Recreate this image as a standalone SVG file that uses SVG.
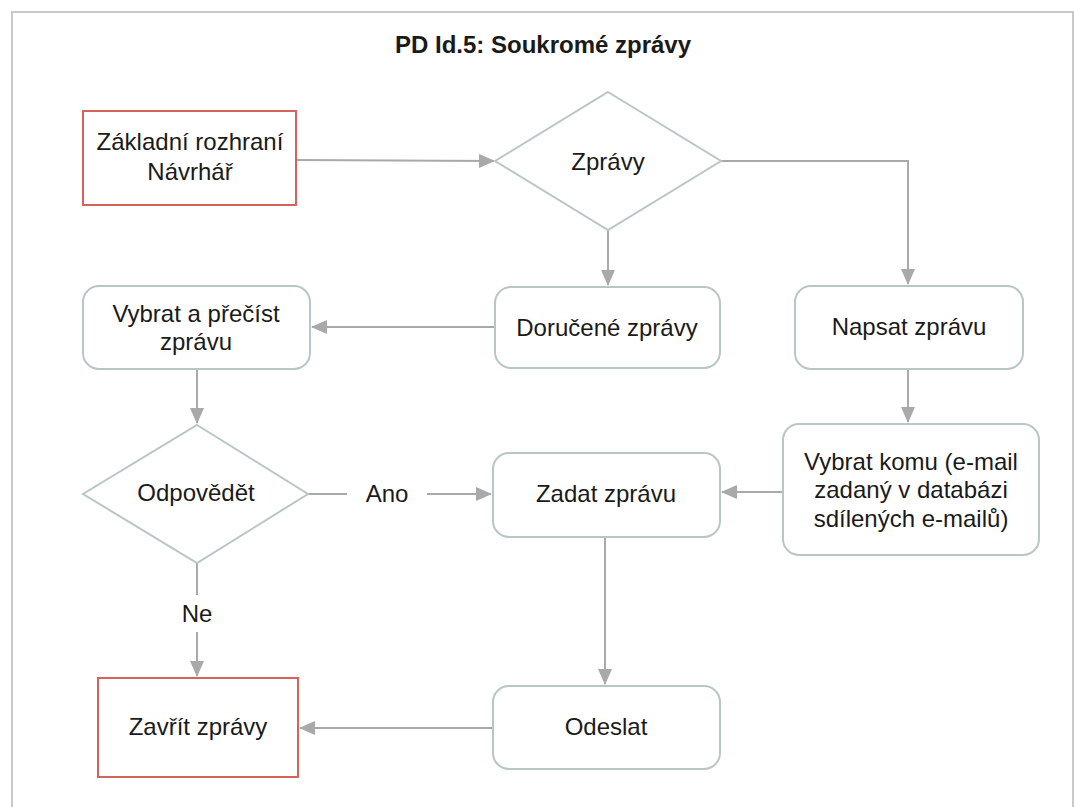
<svg xmlns="http://www.w3.org/2000/svg" width="1074" height="807" viewBox="0 0 1074 807">
  <style>
    .frame { fill: #ffffff; stroke: #c9c9c9; stroke-width: 2; }
    .box { fill: #ffffff; stroke: #b9c6c6; stroke-width: 2; }
    .term { fill: #ffffff; stroke: #d6625c; stroke-width: 2; }
    .edge { fill: none; stroke: #a9a9a9; stroke-width: 2; }
    text { font-family: "Liberation Sans", Arial, Helvetica, sans-serif; font-size: 24px; fill: #1a1a1a; text-anchor: middle; }
    .title { font-weight: bold; }
  </style>
  <defs>
    <marker id="arrow" viewBox="0 0 16 14" refX="15" refY="7" markerWidth="16" markerHeight="14" markerUnits="userSpaceOnUse" orient="auto">
      <path d="M0,0 L16,7 L0,14 Z" fill="#a9a9a9"/>
    </marker>
  </defs>

  <rect x="0" y="0" width="1074" height="807" fill="#ffffff"/>
  <rect class="frame" x="12" y="12" width="1061" height="810"/>

  <text class="title" x="543" y="53">PD Id.5: Soukromé zprávy</text>

  <g id="connectors">
    <line class="edge" x1="296" y1="160" x2="494" y2="161" marker-end="url(#arrow)"/>
    <polyline class="edge" points="721,161 908,161 908,284" marker-end="url(#arrow)"/>
    <line class="edge" x1="608" y1="230" x2="608" y2="285" marker-end="url(#arrow)"/>
    <line class="edge" x1="495" y1="327" x2="312" y2="327" marker-end="url(#arrow)"/>
    <line class="edge" x1="908" y1="369" x2="908" y2="422" marker-end="url(#arrow)"/>
    <line class="edge" x1="197" y1="369" x2="197" y2="423" marker-end="url(#arrow)"/>
    <line class="edge" x1="308" y1="494" x2="347" y2="494"/>
    <line class="edge" x1="427" y1="494" x2="491" y2="494" marker-end="url(#arrow)"/>
    <line class="edge" x1="783" y1="492" x2="722" y2="492" marker-end="url(#arrow)"/>
    <line class="edge" x1="197" y1="563" x2="197" y2="595"/>
    <line class="edge" x1="197" y1="632" x2="197" y2="676" marker-end="url(#arrow)"/>
    <line class="edge" x1="605" y1="537" x2="605" y2="684" marker-end="url(#arrow)"/>
    <line class="edge" x1="493" y1="728" x2="300" y2="728" marker-end="url(#arrow)"/>
    <text x="387" y="502">Ano</text>
    <text x="197" y="622">Ne</text>
  </g>

  <g id="zakladni-rozhrani">
    <rect class="term" x="83" y="111" width="213" height="94"/>
    <text x="190" y="150">Základní rozhraní</text>
    <text x="190" y="180">Návrhář</text>
  </g>

  <g id="zpravy">
    <polygon class="box" points="608,92 721,161 608,230 495,161"/>
    <text x="608" y="170">Zprávy</text>
  </g>

  <g id="dorucene-zpravy">
    <rect class="box" x="495" y="287" width="225" height="81" rx="16"/>
    <text x="607" y="336">Doručené zprávy</text>
  </g>

  <g id="napsat-zpravu">
    <rect class="box" x="795" y="286" width="228" height="83" rx="16"/>
    <text x="909" y="335">Napsat zprávu</text>
  </g>

  <g id="vybrat-a-precist">
    <rect class="box" x="83" y="286" width="227" height="83" rx="16"/>
    <text x="196" y="322">Vybrat a přečíst</text>
    <text x="196" y="350">zprávu</text>
  </g>

  <g id="vybrat-komu">
    <rect class="box" x="783" y="424" width="256" height="131" rx="16"/>
    <text x="911" y="470">Vybrat komu (e-mail</text>
    <text x="911" y="498">zadaný v databázi</text>
    <text x="911" y="527">sdílených e-mailů)</text>
  </g>

  <g id="odpovedet">
    <polygon class="box" points="197,425 308,494 197,563 83,494"/>
    <text x="196" y="501">Odpovědět</text>
  </g>

  <g id="zadat-zpravu">
    <rect class="box" x="493" y="453" width="227" height="84" rx="16"/>
    <text x="606" y="502">Zadat zprávu</text>
  </g>

  <g id="odeslat">
    <rect class="box" x="493" y="686" width="227" height="83" rx="16"/>
    <text x="606" y="735">Odeslat</text>
  </g>

  <g id="zavrit-zpravy">
    <rect class="term" x="98" y="678" width="200" height="99"/>
    <text x="198" y="735">Zavřít zprávy</text>
  </g>
</svg>
